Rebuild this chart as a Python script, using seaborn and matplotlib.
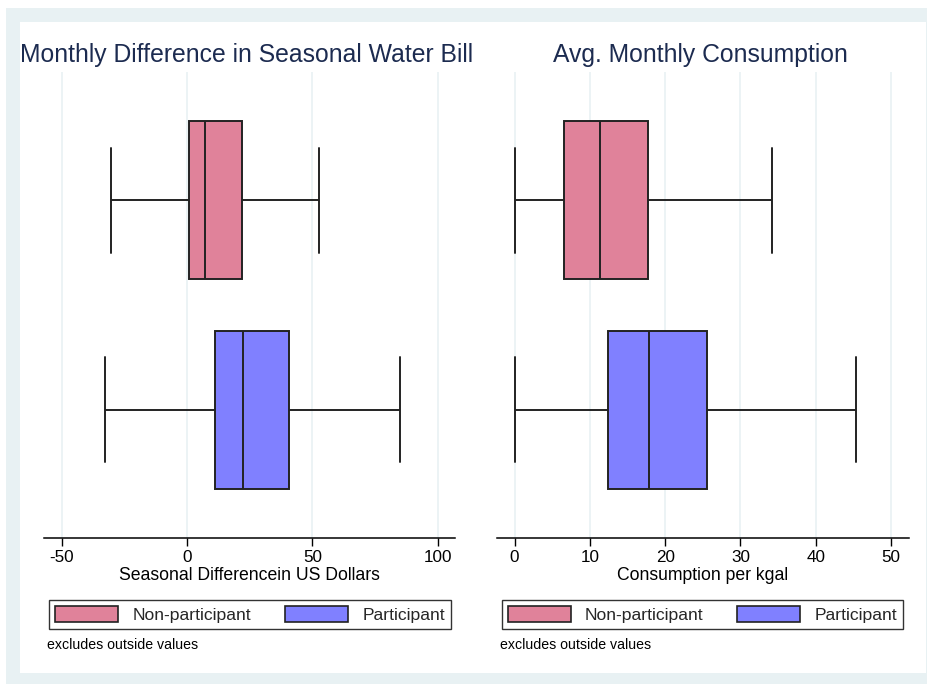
import numpy as np
import pandas as pd
import matplotlib
matplotlib.use("Agg")
import matplotlib.pyplot as plt
from matplotlib.patches import Patch, Rectangle
import seaborn as sns

# Five-number summaries (min, Q1, median, Q3, max) per group
groups = ["Non-participant", "Participant"]
bill_nonpart = [-30.2, 0.8, 7.2, 21.8, 52.6]
bill_part = [-32.7, 11.3, 22.4, 40.8, 84.9]
cons_nonpart = [0.0, 6.6, 11.3, 17.7, 34.2]
cons_part = [0.0, 12.4, 17.8, 25.6, 45.3]

bill_ticks = [-50, 0, 50, 100]
cons_ticks = [0, 10, 20, 30, 40, 50]

colors = {"Non-participant": "#e0829a", "Participant": "#8080ff"}

sns.set_theme(style="white")
plt.rcParams["font.family"] = ["Liberation Sans", "DejaVu Sans"]

navy = "#1c2b50"
grid_c = "#e9f1f3"
line_c = "#222222"

fig = plt.figure(figsize=(9.28, 6.84), dpi=100)
fig.patch.set_facecolor("white")
# outer tinted frame with white graph region inside
W, H = 928, 684
fig.patches.append(Rectangle((6 / W, 0), 1 - 6 / W, 1 - 8 / H, transform=fig.transFigure,
                             facecolor="#e8f1f3", edgecolor="none", zorder=-10))
fig.patches.append(Rectangle((20 / W, 11 / H), (926 - 20) / W, (673 - 22) / H,
                             transform=fig.transFigure, facecolor="white",
                             edgecolor="none", zorder=-9))


def long_frame(a, b):
    return pd.DataFrame({
        "group": [groups[0]] * len(a) + [groups[1]] * len(b),
        "value": list(a) + list(b),
    })


panels = [
    dict(df=long_frame(bill_nonpart, bill_part), ticks=bill_ticks, xlim=(-57, 106.8),
         left=44, width=411, title="Monthly Difference in Seasonal Water Bill",
         title_x=247, xlabel="Seasonal Differencein US Dollars",
         leg_x=49, leg_w=402, note_x=47),
    dict(df=long_frame(cons_nonpart, cons_part), ticks=cons_ticks, xlim=(-2.34, 52.4),
         left=497, width=412, title="Avg. Monthly Consumption",
         title_x=700, xlabel="Consumption per kgal",
         leg_x=502, leg_w=401, note_x=500),
]

for p in panels:
    ax = fig.add_axes([p["left"] / W, (H - 538) / H, p["width"] / W, (538 - 72) / H])
    ax.set_facecolor("none")
    for t in p["ticks"]:
        ax.axvline(t, color=grid_c, lw=1.2, zorder=0)
    sns.boxplot(data=p["df"], x="value", y="group", hue="group", order=groups,
                hue_order=groups, palette=colors, orient="h", whis=(0, 100),
                width=0.752, saturation=1, linecolor=line_c, linewidth=1.4,
                legend=False, capwidths=0.5, ax=ax, zorder=2)
    ax.set_xlim(*p["xlim"])
    ax.set_ylim(1.61, -0.61)
    ax.set_xticks(p["ticks"])
    ax.set_xticklabels([str(t) for t in p["ticks"]], fontsize=12.3, color="black")
    ax.tick_params(axis="x", direction="out", length=6, width=1, color="black", pad=3,
                   bottom=True)
    ax.set_yticks([])
    ax.set_ylabel("")
    ax.set_xlabel(p["xlabel"], fontsize=12.7, color="black", labelpad=1)
    for s in ["left", "right", "top"]:
        ax.spines[s].set_visible(False)
    ax.spines["bottom"].set_color("black")
    ax.spines["bottom"].set_linewidth(1.1)

    fig.text(p["title_x"] / W, (H - 55) / H, p["title"], ha="center", va="center",
             fontsize=17.8, color=navy)

    handles = [Patch(facecolor=colors[g], edgecolor=line_c, linewidth=1.2) for g in groups]
    leg = ax.legend(handles, groups, ncol=2, loc="lower left",
                    bbox_to_anchor=(p["leg_x"] / W, (H - 629) / H, p["leg_w"] / W, 33 / H),
                    bbox_transform=fig.transFigure, mode="expand", frameon=True,
                    fancybox=False, edgecolor="black", fontsize=12.6,
                    handlelength=3.6, handleheight=1.0, handletextpad=0.8,
                    borderpad=0.35, borderaxespad=0, columnspacing=1.5)
    leg.get_frame().set_linewidth(1.0)

    fig.text(p["note_x"] / W, (H - 645) / H, "excludes outside values", ha="left",
             va="center", fontsize=10.2, color="black")

fig.savefig("out.png", dpi=100)
